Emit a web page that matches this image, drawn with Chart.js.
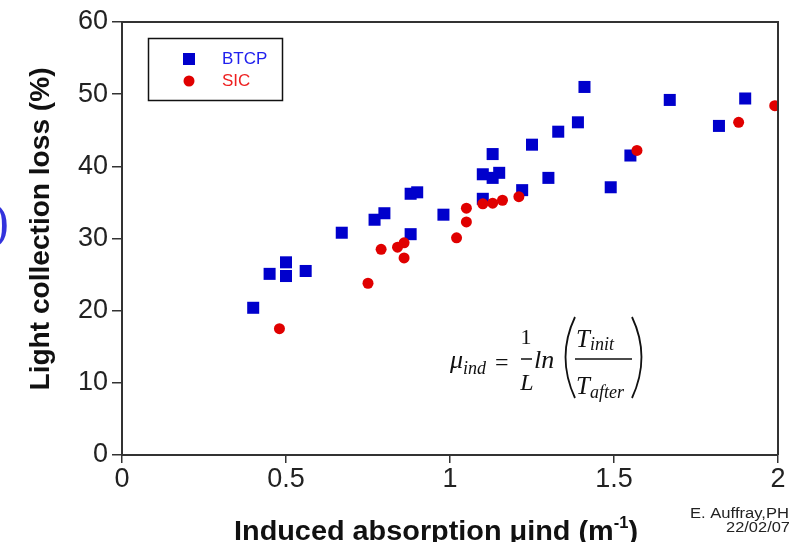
<!DOCTYPE html>
<html>
<head>
<meta charset="utf-8">
<script src="https://cdn.jsdelivr.net/npm/chart.js@4/dist/chart.umd.min.js"></script>
<style>
  html, body { margin: 0; padding: 0; background: #fff; }
  #wrap { width: 789px; height: 542px; position: relative; }
</style>
</head>
<body>
<div id="wrap"><canvas id="myChart"></canvas></div>
<script>
// values
const btcpX = [0.40, 0.45, 0.50, 0.50, 0.56, 0.67, 0.77, 0.80, 0.88, 0.90, 0.88, 0.98, 1.10, 1.13,
               1.13, 1.15, 1.10, 1.22, 1.25, 1.30, 1.33, 1.39, 1.41, 1.49, 1.55, 1.67, 1.82, 1.90];
const btcpY = [20.4, 25.1, 26.7, 24.8, 25.5, 30.8, 32.6, 33.5, 36.2, 36.4, 30.6, 33.3, 38.9, 41.7,
               38.4, 39.1, 35.5, 36.7, 43.0, 38.4, 44.8, 46.1, 51.0, 37.1, 41.5, 49.2, 45.6, 49.4];
const sicX = [0.48, 0.75, 0.79, 0.84, 0.86, 0.86, 1.02, 1.05, 1.05, 1.10, 1.13, 1.16, 1.21, 1.57, 1.88, 1.99];
const sicY = [17.5, 23.8, 28.5, 28.8, 29.4, 27.3, 30.1, 32.3, 34.2, 34.8, 34.9, 35.3, 35.8, 42.2, 46.1, 48.4];
const xTicks = [0, 0.5, 1, 1.5, 2];
const yTicks = [0, 10, 20, 30, 40, 50, 60];
const seriesNames = ['BTCP', 'SIC'];

const BLUE = '#0000cc';
const RED = '#e00000';
const AXIS = '#333';

function toPoints(xs, ys) {
  return xs.map((x, i) => ({ x: x, y: ys[i] }));
}

// draw text squeezed/stretched to a given width
function fitText(ctx, text, x, y, width) {
  const w = ctx.measureText(text).width;
  ctx.save();
  ctx.translate(x, y);
  ctx.scale(width / w, 1);
  ctx.textAlign = 'left';
  ctx.fillText(text, 0, 0);
  ctx.restore();
}

const decor = {
  id: 'decor',
  afterDraw(chart) {
    const ctx = chart.ctx;
    const a = chart.chartArea;
    ctx.save();

    // top and right frame
    ctx.strokeStyle = AXIS;
    ctx.lineWidth = 2;
    ctx.beginPath();
    ctx.moveTo(a.left, a.top);
    ctx.lineTo(a.right, a.top);
    ctx.lineTo(a.right, a.bottom);
    ctx.stroke();

    // legend box
    ctx.lineWidth = 1.5;
    ctx.strokeStyle = '#111';
    ctx.strokeRect(148.5, 38.5, 134, 62);
    const ds = chart.data.datasets;
    ctx.fillStyle = ds[0].backgroundColor;
    ctx.fillRect(183, 53, 12, 12);
    ctx.fillStyle = ds[1].backgroundColor;
    ctx.beginPath();
    ctx.arc(189, 81, 5.5, 0, Math.PI * 2);
    ctx.fill();
    ctx.font = '17px "Liberation Sans", Arial, sans-serif';
    ctx.textBaseline = 'middle';
    ctx.textAlign = 'left';
    ctx.fillStyle = '#2020ee';
    ctx.fillText(ds[0].label, 222, 59);
    ctx.fillStyle = '#ee2020';
    ctx.fillText(ds[1].label, 222, 81);

    // formula
    ctx.fillStyle = '#111';
    ctx.strokeStyle = '#111';
    ctx.textBaseline = 'alphabetic';
    const serif = '"Liberation Serif", "DejaVu Serif", serif';
    ctx.font = 'italic 26px ' + serif;
    ctx.fillText('\u03bc', 450, 368);
    ctx.font = 'italic 18px ' + serif;
    ctx.fillText('ind', 463, 374);
    ctx.font = '24px ' + serif;
    ctx.fillText('=', 495, 370);
    ctx.textAlign = 'center';
    ctx.font = '22px ' + serif;
    ctx.fillText('1', 526, 344);
    ctx.font = 'italic 24px ' + serif;
    ctx.fillText('L', 527, 390);
    ctx.lineWidth = 1.6;
    ctx.beginPath();
    ctx.moveTo(521, 359); ctx.lineTo(532, 359);
    ctx.moveTo(575, 359); ctx.lineTo(632, 359);
    ctx.stroke();
    ctx.textAlign = 'left';
    ctx.font = 'italic 26px ' + serif;
    ctx.fillText('ln', 534, 368);
    ctx.font = 'italic 25px ' + serif;
    ctx.fillText('T', 576, 347);
    ctx.fillText('T', 576, 394);
    ctx.font = 'italic 18px ' + serif;
    ctx.fillText('init', 590, 350);
    ctx.fillText('after', 590, 398);
    ctx.lineWidth = 1.8;
    ctx.beginPath();
    ctx.moveTo(575, 317);
    ctx.quadraticCurveTo(556, 357, 575, 398);
    ctx.moveTo(632, 317);
    ctx.quadraticCurveTo(651, 357, 632, 398);
    ctx.stroke();

    // x axis title with superscript
    const sans = '"Liberation Sans", Arial, sans-serif';
    const main = 'Induced absorption \u03bcind (m';
    ctx.fillStyle = '#111';
    ctx.font = 'bold 28px ' + sans;
    const w1 = ctx.measureText(main).width;
    const w3 = ctx.measureText(')').width;
    ctx.font = 'bold 16px ' + sans;
    const w2 = ctx.measureText('-1').width;
    const k = 404 / (w1 + w2 + w3);
    ctx.save();
    ctx.translate(234, 540);
    ctx.scale(k, 1);
    ctx.font = 'bold 28px ' + sans;
    ctx.fillText(main, 0, 0);
    ctx.fillText(')', w1 + w2, 0);
    ctx.font = 'bold 16px ' + sans;
    ctx.fillText('-1', w1, -12);
    ctx.restore();

    // y axis title
    ctx.save();
    ctx.translate(49, 229);
    ctx.rotate(-Math.PI / 2);
    ctx.font = 'bold 27px ' + sans;
    fitText(ctx, 'Light collection loss (%)', -323 / 2, 0, 323);
    ctx.restore();

    // credit
    ctx.fillStyle = '#222';
    ctx.font = '14px ' + sans;
    fitText(ctx, 'E. Auffray,PH', 690, 518, 99);
    fitText(ctx, '22/02/07', 726, 532, 64);

    // slide fragment on the left edge
    ctx.fillStyle = '#3333dd';
    ctx.font = '50px ' + serif;
    ctx.textAlign = 'right';
    ctx.fillText(')', 9, 238);

    ctx.restore();
  }
};

const tickFont = { family: '"Liberation Sans", Arial, sans-serif', size: 27 };

new Chart(document.getElementById('myChart').getContext('2d'), {
  type: 'scatter',
  data: {
    datasets: [
      {
        label: seriesNames[0],
        data: toPoints(btcpX, btcpY),
        backgroundColor: BLUE,
        borderColor: BLUE,
        borderWidth: 0,
        pointStyle: 'rect',
        pointRadius: 8.5,
        order: 2
      },
      {
        label: seriesNames[1],
        data: toPoints(sicX, sicY),
        backgroundColor: RED,
        borderColor: RED,
        borderWidth: 0,
        pointStyle: 'circle',
        pointRadius: 5.5,
        order: 1
      }
    ]
  },
  options: {
    responsive: true,
    maintainAspectRatio: false,
    animation: false,
    devicePixelRatio: 1,
    layout: { padding: { top: 22, right: 11, bottom: 0, left: 0 } },
    plugins: {
      legend: { display: false },
      tooltip: { enabled: false }
    },
    scales: {
      x: {
        type: 'linear',
        min: 0,
        max: 2,
        afterBuildTicks: (scale) => { scale.ticks = xTicks.map(v => ({ value: v })); },
        afterFit: (scale) => { scale.height = 87; },
        ticks: {
          font: tickFont, color: '#222', padding: 0, maxRotation: 0, autoSkip: false,
          callback: (v) => String(v)
        },
        grid: { display: true, drawOnChartArea: false, drawTicks: true, tickLength: 8, color: AXIS, lineWidth: 1.5 },
        border: { display: true, color: AXIS, width: 2 }
      },
      y: {
        type: 'linear',
        min: 0,
        max: 60,
        afterBuildTicks: (scale) => { scale.ticks = yTicks.map(v => ({ value: v })); },
        afterFit: (scale) => { scale.width = 122; },
        ticks: { font: tickFont, color: '#222', padding: 4, autoSkip: false },
        grid: { display: true, drawOnChartArea: false, drawTicks: true, tickLength: 10, color: AXIS, lineWidth: 1.5 },
        border: { display: true, color: AXIS, width: 2 }
      }
    }
  },
  plugins: [decor]
});
</script>
</body>
</html>
